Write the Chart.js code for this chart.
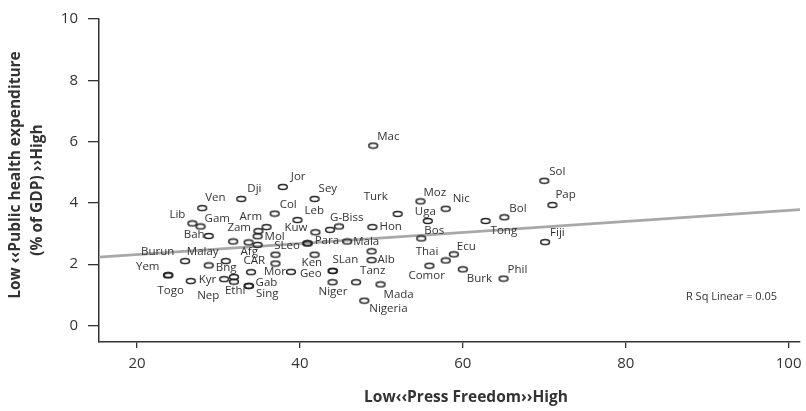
<!DOCTYPE html>
<html>
<head>
<meta charset="utf-8">
<title>Press freedom and public health expenditure</title>
<script src="https://cdn.jsdelivr.net/npm/chart.js@4.4.1/dist/chart.umd.min.js"></script>
<style>
  html, body { margin: 0; padding: 0; background: #fff; }
  #wrap { width: 806px; height: 411px; }
</style>
</head>
<body>
<div id="wrap"><canvas id="chart" width="806" height="411"></canvas></div>
<script>
// Scatter of press freedom (x) against public health expenditure (y),
// one point per country, with the linear fit drawn underneath.

const countries = [
  'Mac', 'Sol', 'Pap', 'Jor', 'Dji', 'Ven', 'Sey', 'Col', 'Turk', 'Moz',
  'Nic', 'Bol', 'Lib', 'Gam', 'Arm', 'Leb', 'G-Biss', '', 'Uga', 'Zam',
  'Kuw', 'Hon', 'Bos', 'Tong', 'Fiji', 'Bah', 'Mol', 'Burun', 'Afg', 'SLeo',
  'Para', 'Mala', 'Ecu', 'Thai', 'Yem', 'Togo', 'Bng', 'CAR', '', 'Ken',
  'SLan', 'Geo', '', 'Alb', 'Tanz', 'Comor', 'Burk', 'Phil', 'Kyr', 'Mor',
  'Gab', 'Sing', 'Niger', 'Mada', 'Nep', '', 'Ethi', 'Nigeria', '', '',
  'Malay', ''
];

const pressFreedom = [
  49.0, 70.0, 71.0, 37.9, 32.8, 28.0, 41.8, 36.9, 52.0, 54.8,
  57.9, 65.1, 26.8, 27.8, 35.9, 39.7, 43.7, 44.8, 55.7, 34.9,
  41.9, 48.9, 54.9, 62.8, 70.1, 28.8, 34.8, 25.9, 34.8, 40.9,
  40.95, 45.8, 58.9, 57.9, 23.8, 23.85, 28.8, 37.0, 37.0, 41.8,
  44.0, 44.05, 48.8, 48.8, 46.9, 55.9, 60.0, 65.0, 26.6, 38.9,
  33.7, 33.75, 44.0, 49.9, 30.7, 31.9, 31.9, 47.9, 31.8, 33.7,
  30.9, 34.0
];

const healthSpend = [
  5.87, 4.72, 3.93, 4.52, 4.13, 3.83, 4.13, 3.65, 3.64, 4.05,
  3.81, 3.53, 3.33, 3.23, 3.21, 3.44, 3.12, 3.23, 3.41, 3.08,
  3.04, 3.21, 2.84, 3.41, 2.72, 2.92, 2.91, 2.10, 2.63, 2.68,
  2.68, 2.74, 2.32, 2.12, 1.64, 1.64, 1.96, 2.31, 2.02, 2.31,
  1.78, 1.78, 2.42, 2.13, 1.41, 1.95, 1.83, 1.53, 1.45, 1.75,
  1.29, 1.29, 1.41, 1.34, 1.51, 1.58, 1.43, 0.81, 2.74, 2.71,
  2.10, 1.74
];

// where each name sits relative to its point, in px
const labelOffset = [
  [4, -9], [5, -9], [3, -10], [8, -10], [6, -10], [3, -10], [4, -10], [5, -9], [-34, -17], [3, -9],
  [7, -10], [5, -9], [-23, -9], [4, -8], [-27, -10], [7, -9], [0, -12], [0, 0], [-13, -9], [-31, -3],
  [-31, -5], [7, 0], [3, -8], [5, 10], [5, -9], [-25, -1], [7, 0], [-44, -9], [-17, 7], [-33, 2],
  [7, -3], [6, 0], [3, -8], [-30, -9], [-32, -8], [-11, 16], [7, 2], [-32, 6], [0, 0], [-13, 8],
  [0, -11], [-33, 3], [0, 0], [6, 0], [4, -12], [-21, 10], [4, 9], [4, -9], [8, -1], [-27, 0],
  [7, -3], [7, 8], [-14, 9], [3, 10], [-27, 17], [0, 0], [-9, 9], [5, 8], [0, 0], [0, 0],
  [-39, -9], [0, 0]
];

const xTicks = [20, 40, 60, 80, 100];
const yTicks = [0, 2, 4, 6, 8, 10];
const xRange = [15.33, 101.4];
const yRange = [-0.54, 10];

// linear fit, end to end across the plot
const fitX = [15.33, 101.4];
const fitY = [2.23, 3.78];
const fitNote = 'R Sq Linear = 0.05';
const fitNoteAt = [87.4, 0.94];

const xTitle = 'Low‹‹Press Freedom››High';
const yTitle = ['Low ‹‹Public health expenditure', '(% of GDP) ››High'];

const INK = '#333333';
const FONT = '"Open Sans", sans-serif';

// small open ellipse used as the point marker
function makeMarker() {
  const c = document.createElement('canvas');
  c.width = 12;
  c.height = 8;
  const g = c.getContext('2d');
  g.beginPath();
  g.ellipse(6, 4, 4.4, 2.5, 0, 0, Math.PI * 2);
  g.lineWidth = 1.5;
  g.strokeStyle = '#222222';
  g.stroke();
  return c;
}

const points = pressFreedom.map((v, i) => ({ x: v, y: healthSpend[i] }));
const fitLine = fitX.map((v, i) => ({ x: v, y: fitY[i] }));

// names next to points, the fit note, x tick labels and axis titles
const annotations = {
  id: 'annotations',
  afterDraw(chart) {
    const { ctx, scales: { x, y }, chartArea } = chart;
    ctx.save();
    ctx.fillStyle = INK;

    ctx.font = '11.5px ' + FONT;
    ctx.textAlign = 'left';
    ctx.textBaseline = 'middle';
    countries.forEach((name, i) => {
      if (!name) return;
      const px = x.getPixelForValue(pressFreedom[i]);
      const py = y.getPixelForValue(healthSpend[i]);
      ctx.fillText(name, px + labelOffset[i][0], py + labelOffset[i][1]);
    });

    ctx.font = '11px ' + FONT;
    ctx.fillText(fitNote, x.getPixelForValue(fitNoteAt[0]), y.getPixelForValue(fitNoteAt[1]));

    ctx.font = '15px ' + FONT;
    ctx.textAlign = 'center';
    xTicks.forEach(v => {
      ctx.fillText(String(v), x.getPixelForValue(v), chartArea.bottom + 22);
    });

    ctx.font = 'bold 15.5px ' + FONT;
    ctx.fillText(xTitle, 466, 398);

    ctx.rotate(-Math.PI / 2);
    ctx.fillText(yTitle[0], -175, 16);
    ctx.fillText(yTitle[1], -190, 38);
    ctx.restore();
  }
};

const axisLine = { color: INK, width: 1.5 };

new Chart(document.getElementById('chart'), {
  type: 'scatter',
  data: {
    datasets: [
      {
        data: points,
        pointStyle: makeMarker(),
        pointRadius: 5,
        order: 1
      },
      {
        type: 'line',
        data: fitLine,
        borderColor: '#a8a8a8',
        borderWidth: 2.6,
        pointRadius: 0,
        order: 2
      }
    ]
  },
  options: {
    responsive: false,
    animation: false,
    devicePixelRatio: 1,
    events: [],
    layout: { padding: { top: 14, right: 0, bottom: 0, left: 0 } },
    plugins: {
      legend: { display: false },
      tooltip: { enabled: false }
    },
    scales: {
      x: {
        type: 'linear',
        min: xRange[0],
        max: xRange[1],
        afterBuildTicks: s => { s.ticks = xTicks.map(v => ({ value: v })); },
        afterFit: s => { s.height = 69; },
        ticks: { display: false },
        grid: { drawOnChartArea: false, drawTicks: true, tickLength: 6, color: INK, lineWidth: 1.3 },
        border: axisLine
      },
      y: {
        type: 'linear',
        min: yRange[0],
        max: yRange[1],
        afterBuildTicks: s => { s.ticks = yTicks.map(v => ({ value: v })); },
        afterFit: s => { s.width = 99; },
        ticks: { color: INK, padding: 10, font: { family: FONT, size: 15 } },
        grid: { drawOnChartArea: false, drawTicks: true, tickLength: 11, color: INK, lineWidth: 1.3 },
        border: axisLine
      }
    }
  },
  plugins: [annotations]
});
</script>
</body>
</html>
